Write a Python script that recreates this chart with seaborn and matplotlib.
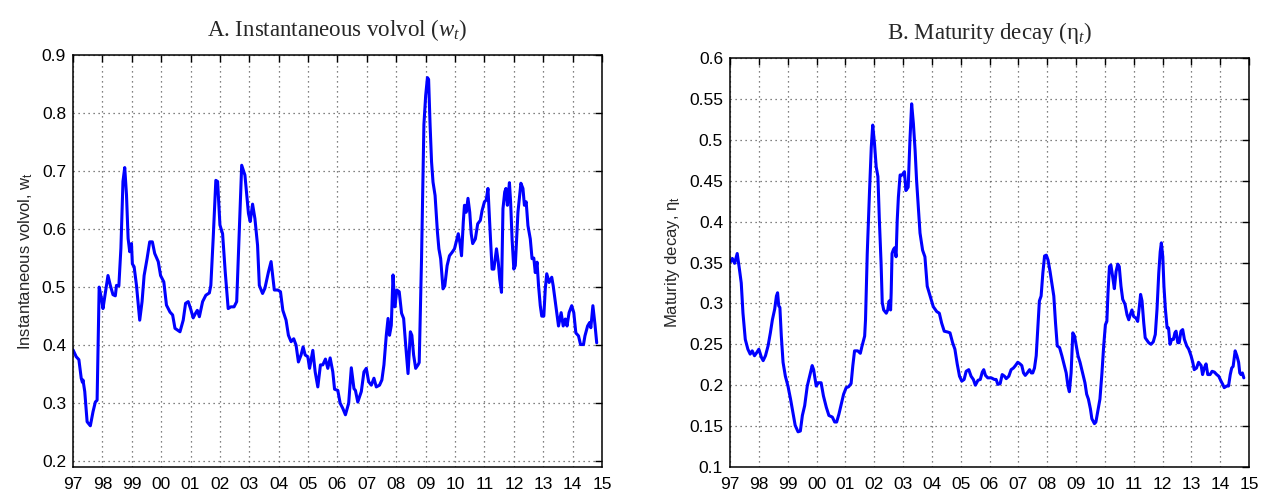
import numpy as np
import pandas as pd
import matplotlib
matplotlib.use("Agg")
import matplotlib.pyplot as plt
import seaborn as sns

# ---------------- data ----------------
volvol_t = [1997.00, 1997.11, 1997.20, 1997.28, 1997.32, 1997.34, 1997.40, 1997.48, 1997.59, 1997.68,
            1997.76, 1997.82, 1997.89, 1997.97, 1998.02, 1998.09, 1998.19, 1998.27, 1998.36, 1998.44,
            1998.48, 1998.56, 1998.63, 1998.70, 1998.76, 1998.82, 1998.875, 1998.93, 1998.99, 1999.02,
            1999.08, 1999.16, 1999.27, 1999.35, 1999.42, 1999.52, 1999.61, 1999.70, 1999.78, 1999.90,
            1999.98, 2000.09, 2000.18, 2000.30, 2000.39, 2000.47, 2000.64, 2000.75, 2000.83, 2000.92,
            2001.00, 2001.09, 2001.17, 2001.23, 2001.30, 2001.41, 2001.52, 2001.64, 2001.69, 2001.77,
            2001.86, 2001.92, 2002.00, 2002.09, 2002.18, 2002.28, 2002.37, 2002.48, 2002.57, 2002.65,
            2002.74, 2002.85, 2002.97, 2003.03, 2003.11, 2003.19, 2003.28, 2003.34, 2003.45, 2003.53,
            2003.65, 2003.74, 2003.85, 2003.97, 2004.06, 2004.14, 2004.25, 2004.33, 2004.42, 2004.51,
            2004.59, 2004.67, 2004.76, 2004.83, 2004.90, 2004.99, 2005.05, 2005.16, 2005.24, 2005.33,
            2005.42, 2005.50, 2005.59, 2005.67, 2005.75, 2005.84, 2005.90, 2006.01, 2006.09, 2006.18,
            2006.27, 2006.38, 2006.47, 2006.56, 2006.61, 2006.69, 2006.81, 2006.90, 2006.98, 2007.06,
            2007.15, 2007.24, 2007.32, 2007.43, 2007.51, 2007.58, 2007.66, 2007.72, 2007.77, 2007.83,
            2007.89, 2007.95, 2008.02, 2008.10, 2008.18, 2008.25, 2008.32, 2008.40, 2008.48, 2008.53,
            2008.59, 2008.66, 2008.74, 2008.78, 2008.86, 2008.94, 2009.00, 2009.06, 2009.10, 2009.15,
            2009.20, 2009.25, 2009.32, 2009.40, 2009.45, 2009.51, 2009.59, 2009.65, 2009.73, 2009.81,
            2009.90, 2009.98, 2010.05, 2010.11, 2010.17, 2010.22, 2010.28, 2010.32, 2010.38, 2010.44,
            2010.50, 2010.55, 2010.60, 2010.69, 2010.77, 2010.86, 2010.92, 2011.00, 2011.06, 2011.12,
            2011.16, 2011.20, 2011.26, 2011.32, 2011.41, 2011.47, 2011.52, 2011.58, 2011.63, 2011.69,
            2011.73, 2011.78, 2011.85, 2011.89, 2011.94, 2012.00, 2012.05, 2012.14, 2012.24, 2012.31,
            2012.36, 2012.42, 2012.48, 2012.56, 2012.62, 2012.68, 2012.73, 2012.79, 2012.84, 2012.90,
            2012.95, 2013.02, 2013.07, 2013.12, 2013.20, 2013.29, 2013.34, 2013.43, 2013.52, 2013.61,
            2013.68, 2013.75, 2013.81, 2013.88, 2013.97, 2014.04, 2014.11, 2014.20, 2014.27, 2014.37,
            2014.42, 2014.51, 2014.58, 2014.62, 2014.69, 2014.76, 2014.82]
volvol_w = [0.392, 0.380, 0.375, 0.343, 0.336, 0.340, 0.320, 0.268, 0.261, 0.285,
            0.302, 0.305, 0.500, 0.480, 0.463, 0.486, 0.520, 0.503, 0.487, 0.485,
            0.503, 0.502, 0.567, 0.682, 0.706, 0.659, 0.584, 0.561, 0.575, 0.540,
            0.535, 0.503, 0.443, 0.475, 0.520, 0.549, 0.578, 0.578, 0.558, 0.544,
            0.520, 0.509, 0.469, 0.457, 0.452, 0.429, 0.423, 0.443, 0.472, 0.475,
            0.463, 0.447, 0.455, 0.460, 0.449, 0.475, 0.486, 0.490, 0.503, 0.584,
            0.684, 0.682, 0.607, 0.592, 0.526, 0.463, 0.466, 0.466, 0.475, 0.584,
            0.710, 0.693, 0.627, 0.613, 0.643, 0.618, 0.572, 0.503, 0.489, 0.498,
            0.526, 0.544, 0.495, 0.495, 0.492, 0.460, 0.443, 0.417, 0.406, 0.411,
            0.400, 0.371, 0.383, 0.397, 0.383, 0.380, 0.360, 0.391, 0.354, 0.328,
            0.366, 0.366, 0.376, 0.360, 0.378, 0.354, 0.324, 0.322, 0.300, 0.291,
            0.280, 0.300, 0.361, 0.325, 0.322, 0.302, 0.320, 0.354, 0.360, 0.337,
            0.331, 0.343, 0.328, 0.331, 0.340, 0.366, 0.417, 0.446, 0.417, 0.434,
            0.521, 0.466, 0.495, 0.492, 0.455, 0.446, 0.400, 0.351, 0.423, 0.417,
            0.383, 0.360, 0.366, 0.370, 0.550, 0.780, 0.830, 0.861, 0.858, 0.780,
            0.716, 0.681, 0.658, 0.595, 0.566, 0.549, 0.497, 0.502, 0.537, 0.554,
            0.560, 0.566, 0.580, 0.592, 0.575, 0.554, 0.612, 0.641, 0.629, 0.653,
            0.629, 0.592, 0.575, 0.583, 0.609, 0.615, 0.632, 0.647, 0.650, 0.670,
            0.629, 0.589, 0.531, 0.531, 0.566, 0.543, 0.514, 0.491, 0.635, 0.664,
            0.670, 0.641, 0.680, 0.647, 0.583, 0.531, 0.537, 0.629, 0.679, 0.670,
            0.641, 0.647, 0.606, 0.583, 0.549, 0.550, 0.525, 0.543, 0.503, 0.468,
            0.450, 0.450, 0.497, 0.523, 0.508, 0.517, 0.502, 0.468, 0.433, 0.456,
            0.433, 0.445, 0.433, 0.456, 0.468, 0.456, 0.421, 0.416, 0.401, 0.401,
            0.416, 0.433, 0.439, 0.430, 0.468, 0.436, 0.404]

decay_t = [1997.02, 1997.08, 1997.16, 1997.25, 1997.33, 1997.39, 1997.45, 1997.53, 1997.62, 1997.70,
           1997.77, 1997.85, 1997.93, 1998.00, 1998.09, 1998.15, 1998.23, 1998.32, 1998.40, 1998.47,
           1998.55, 1998.61, 1998.65, 1998.69, 1998.73, 1998.78, 1998.84, 1998.92, 1999.01, 1999.10,
           1999.18, 1999.26, 1999.36, 1999.44, 1999.51, 1999.59, 1999.68, 1999.76, 1999.85, 1999.90,
           1999.99, 2000.07, 2000.16, 2000.24, 2000.34, 2000.43, 2000.55, 2000.63, 2000.70, 2000.78,
           2000.86, 2000.94, 2001.03, 2001.11, 2001.20, 2001.26, 2001.32, 2001.43, 2001.52, 2001.58,
           2001.67, 2001.70, 2001.76, 2001.84, 2001.90, 2001.95, 2002.01, 2002.07, 2002.13, 2002.18,
           2002.24, 2002.28, 2002.33, 2002.42, 2002.47, 2002.52, 2002.57, 2002.59, 2002.62, 2002.67,
           2002.71, 2002.76, 2002.80, 2002.84, 2002.90, 2002.97, 2003.05, 2003.10, 2003.18, 2003.24,
           2003.30, 2003.36, 2003.42, 2003.47, 2003.53, 2003.59, 2003.68, 2003.76, 2003.84, 2003.94,
           2004.05, 2004.17, 2004.26, 2004.34, 2004.43, 2004.55, 2004.63, 2004.72, 2004.80, 2004.88,
           2004.96, 2005.04, 2005.12, 2005.19, 2005.28, 2005.36, 2005.44, 2005.51, 2005.60, 2005.68,
           2005.75, 2005.80, 2005.86, 2005.94, 2006.06, 2006.17, 2006.23, 2006.29, 2006.37, 2006.44,
           2006.52, 2006.58, 2006.67, 2006.75, 2006.83, 2006.90, 2006.98, 2007.06, 2007.12, 2007.18,
           2007.24, 2007.31, 2007.39, 2007.45, 2007.50, 2007.56, 2007.62, 2007.68, 2007.73, 2007.79,
           2007.85, 2007.91, 2007.97, 2008.03, 2008.10, 2008.17, 2008.23, 2008.29, 2008.35, 2008.43,
           2008.51, 2008.58, 2008.66, 2008.72, 2008.77, 2008.83, 2008.89, 2008.95, 2009.01, 2009.07,
           2009.14, 2009.23, 2009.31, 2009.37, 2009.43, 2009.50, 2009.55, 2009.64, 2009.69, 2009.75,
           2009.83, 2009.90, 2009.96, 2010.02, 2010.07, 2010.11, 2010.16, 2010.21, 2010.27, 2010.33,
           2010.39, 2010.45, 2010.50, 2010.56, 2010.62, 2010.70, 2010.77, 2010.83, 2010.88, 2010.94,
           2011.00, 2011.08, 2011.14, 2011.20, 2011.24, 2011.29, 2011.35, 2011.40, 2011.46, 2011.52,
           2011.60, 2011.68, 2011.75, 2011.81, 2011.87, 2011.92, 2011.96, 2012.01, 2012.05, 2012.10,
           2012.16, 2012.21, 2012.26, 2012.32, 2012.38, 2012.43, 2012.47, 2012.53, 2012.58, 2012.64,
           2012.70, 2012.76, 2012.84, 2012.91, 2012.99, 2013.05, 2013.10, 2013.18, 2013.25, 2013.34,
           2013.39, 2013.45, 2013.51, 2013.57, 2013.65, 2013.72, 2013.80, 2013.88, 2013.95, 2014.03,
           2014.09, 2014.14, 2014.23, 2014.29, 2014.35, 2014.40, 2014.45, 2014.49, 2014.52, 2014.58,
           2014.64, 2014.68, 2014.72, 2014.77, 2014.82]
decay_eta = [0.351, 0.355, 0.349, 0.361, 0.341, 0.325, 0.288, 0.256, 0.244, 0.238,
             0.242, 0.236, 0.240, 0.244, 0.234, 0.230, 0.236, 0.248, 0.264, 0.280,
             0.293, 0.309, 0.313, 0.297, 0.295, 0.260, 0.228, 0.211, 0.199, 0.183,
             0.167, 0.151, 0.143, 0.144, 0.163, 0.175, 0.199, 0.211, 0.224, 0.219,
             0.199, 0.203, 0.203, 0.187, 0.173, 0.163, 0.161, 0.155, 0.155, 0.165,
             0.177, 0.189, 0.197, 0.198, 0.202, 0.224, 0.242, 0.242, 0.239, 0.248,
             0.260, 0.280, 0.361, 0.438, 0.491, 0.518, 0.496, 0.467, 0.455, 0.402,
             0.349, 0.301, 0.292, 0.288, 0.292, 0.303, 0.292, 0.313, 0.361, 0.366,
             0.368, 0.357, 0.402, 0.430, 0.457, 0.457, 0.461, 0.438, 0.442, 0.499,
             0.544, 0.520, 0.487, 0.451, 0.418, 0.386, 0.365, 0.357, 0.321, 0.309,
             0.296, 0.290, 0.288, 0.276, 0.266, 0.265, 0.264, 0.252, 0.244, 0.226,
             0.211, 0.205, 0.207, 0.217, 0.219, 0.211, 0.207, 0.200, 0.206, 0.207,
             0.216, 0.219, 0.212, 0.209, 0.209, 0.207, 0.207, 0.201, 0.202, 0.213,
             0.211, 0.208, 0.211, 0.219, 0.221, 0.224, 0.228, 0.226, 0.224, 0.215,
             0.212, 0.215, 0.219, 0.215, 0.215, 0.221, 0.236, 0.272, 0.303, 0.309,
             0.337, 0.358, 0.359, 0.353, 0.339, 0.323, 0.309, 0.276, 0.248, 0.246,
             0.236, 0.226, 0.215, 0.199, 0.192, 0.215, 0.264, 0.260, 0.248, 0.236,
             0.228, 0.215, 0.203, 0.189, 0.183, 0.171, 0.159, 0.153, 0.155, 0.167,
             0.183, 0.215, 0.248, 0.274, 0.278, 0.313, 0.345, 0.347, 0.333, 0.318,
             0.339, 0.348, 0.345, 0.321, 0.305, 0.299, 0.286, 0.280, 0.286, 0.292,
             0.284, 0.282, 0.278, 0.297, 0.311, 0.303, 0.276, 0.258, 0.255, 0.252,
             0.250, 0.253, 0.262, 0.293, 0.337, 0.363, 0.374, 0.357, 0.321, 0.293,
             0.270, 0.270, 0.250, 0.256, 0.256, 0.264, 0.266, 0.252, 0.252, 0.266,
             0.268, 0.256, 0.248, 0.244, 0.236, 0.228, 0.219, 0.221, 0.228, 0.224,
             0.213, 0.221, 0.226, 0.213, 0.213, 0.217, 0.216, 0.213, 0.211, 0.205,
             0.201, 0.197, 0.199, 0.199, 0.213, 0.221, 0.223, 0.234, 0.242, 0.236,
             0.228, 0.215, 0.213, 0.215, 0.209]

year_ticks = list(range(1997, 2016))
year_labels = ["97", "98", "99", "00", "01", "02", "03", "04", "05", "06",
               "07", "08", "09", "10", "11", "12", "13", "14", "15"]
left_yticks = [0.2, 0.3, 0.4, 0.5, 0.6, 0.7, 0.8, 0.9]
right_yticks = [0.1, 0.15, 0.2, 0.25, 0.3, 0.35, 0.4, 0.45, 0.5, 0.55, 0.6]

# ---------------- style ----------------
sns.set_style("white")
plt.rcParams["font.family"] = ["Liberation Sans", "DejaVu Sans"]
plt.rcParams["mathtext.fontset"] = "custom"
plt.rcParams["mathtext.rm"] = "Liberation Sans"
plt.rcParams["mathtext.it"] = "Liberation Serif:italic"

fig = plt.figure(figsize=(12.73, 4.97), dpi=100)
axA = fig.add_axes([73 / 1273, 1 - 467 / 497, (602 - 73) / 1273, (467 - 55) / 497])
axB = fig.add_axes([730 / 1273, 1 - 467 / 497, (1249 - 730) / 1273, (467 - 58) / 497])

dfA = pd.DataFrame({"t": volvol_t, "w": volvol_w})
dfB = pd.DataFrame({"t": decay_t, "eta": decay_eta})

sns.lineplot(data=dfA, x="t", y="w", ax=axA, color="#0000ff", lw=2.2, estimator=None, sort=False)
sns.lineplot(data=dfB, x="t", y="eta", ax=axB, color="#0000ff", lw=2.2, estimator=None, sort=False)

for ax, yt in ((axA, left_yticks), (axB, right_yticks)):
    ax.set_xlim(1997, 2015)
    ax.set_xticks(year_ticks)
    ax.set_xticklabels(year_labels)
    ax.set_yticks(yt)
    ax.set_yticklabels([("%g" % v) for v in yt])
    ax.grid(True, linestyle=(0, (1, 3)), color="0.35", linewidth=0.9)
    ax.tick_params(direction="in", top=True, right=True, length=5, width=1.0,
                   labelsize=12.5, pad=5, colors="black")
    ax.tick_params(axis="x", pad=7)
    for s in ax.spines.values():
        s.set_visible(True)
        s.set_color("black")
        s.set_linewidth(1.1)

axA.set_ylim(0.19, 0.9)
axB.set_ylim(0.1, 0.6)

axA.set_xlabel("")
axB.set_xlabel("")
axA.set_ylabel(r"Instantaneous volvol, w$_\mathregular{t}$", fontsize=12, labelpad=5)
axB.set_ylabel(r"Maturity decay, η$_\mathregular{t}$", fontsize=12, labelpad=5)

axA.set_title(r"A. Instantaneous volvol ($w_t$)", fontsize=16.5,
              family=["Liberation Serif", "DejaVu Serif"], pad=14)
axB.set_title("B. Maturity decay (η$_{t}$)", fontsize=16.5,
              family=["Liberation Serif", "DejaVu Serif"], pad=14)

fig.savefig("out.png", dpi=100)
